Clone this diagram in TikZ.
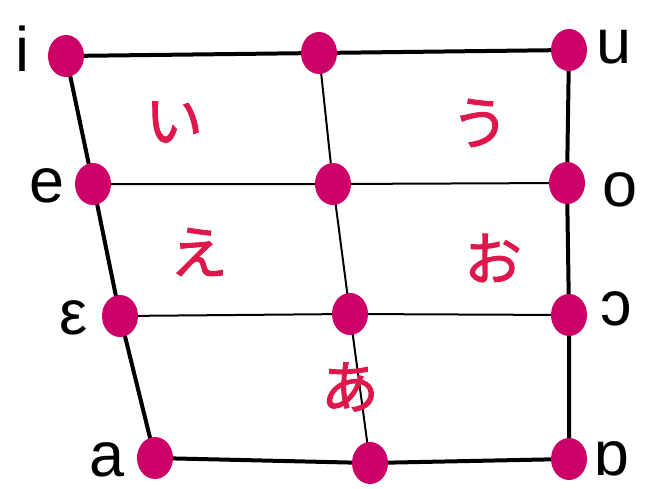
\documentclass[tikz,border=0pt]{standalone}
\usepackage{fontspec}
\setmainfont{Liberation Sans}
\newfontfamily\cjk{Noto Sans CJK JP}[FakeBold=1.6]
\usetikzlibrary{backgrounds,shapes.geometric}
\definecolor{dotc}{RGB}{204,0,102}
\definecolor{kanac}{RGB}{222,24,74}
\tikzset{
  vdot/.style={ellipse, fill=dotc, minimum width=36pt, minimum height=42pt, inner sep=0pt},
  thickline/.style={line width=4pt, black},
  thinline/.style={line width=2pt, black},
  lbl/.style={anchor=base, font=\fontsize{63}{63}\selectfont, inner sep=0pt},
  kana/.style={font=\cjk\fontsize{58}{58}\selectfont, text=kanac, inner sep=0pt}
}
\begin{document}
\begin{tikzpicture}[x=1pt,y=-1pt]
\useasboundingbox (0,0) rectangle (646,488);
% dots
\node[vdot] (i) at (66,56) {};
\node[vdot] (t) at (319,53) {};
\node[vdot] (u) at (569,50) {};
\node[vdot] (e) at (93,184) {};
\node[vdot] (m1) at (333,184) {};
\node[vdot] (o) at (567,183) {};
\node[vdot] (E) at (120,316) {};
\node[vdot] (m2) at (350,314) {};
\node[vdot] (O) at (569,315) {};
\node[vdot] (a) at (155,458) {};
\node[vdot] (b) at (370,463) {};
\node[vdot] (A) at (569,459) {};
\begin{scope}[on background layer]
\draw[thickline] (i.center) -- (t.center) -- (u.center);
\draw[thickline] (i.center) -- (e.center) -- (E.center) -- (a.center);
\draw[thickline] (u.center) -- (o.center) -- (O.center) -- (A.center);
\draw[thickline] (a.center) -- (b.center) -- (A.center);
\draw[thinline] (t.center) -- (m1.center) -- (m2.center) -- (b.center);
\draw[thinline] (e.center) -- (m1.center) -- (o.center);
\draw[thinline] (E.center) -- (m2.center) -- (O.center);
\end{scope}
% labels
\node[lbl] (li) at (22,71) {i};
\node[lbl] (le) at (47,202) {e};
\node[lbl] (lE) at (74,334) {ε};
\node[lbl] (la) at (107,476) {a};
\node[lbl] (lu) at (614,63) {u};
\node[lbl] (lo) at (620,206) {o};
\node[lbl] (lO) at (616,325) {ɔ};
\node[lbl] (lA) at (612,475) {ɒ};
% kana
\node[kana] (ki) at (174,122) {い};
\node[kana] (ku) at (480,123) {う};
\node[kana] (ke) at (199,252) {え};
\node[kana] (ko) at (493,258) {お};
\node[kana] (ka) at (350,387) {あ};
\end{tikzpicture}
\end{document}
